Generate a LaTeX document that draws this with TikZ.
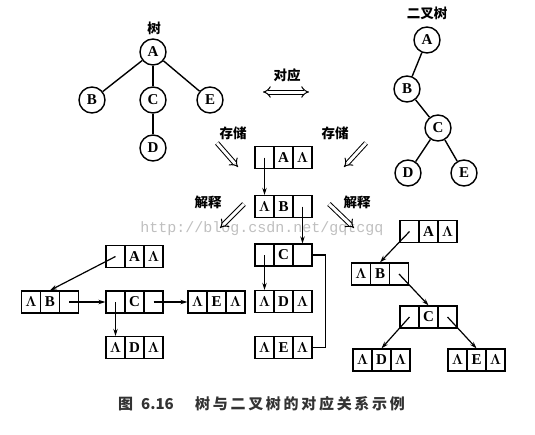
\documentclass[tikz,border=0pt]{standalone}
\usepackage{fontspec}
\setmainfont{Liberation Serif}
\newfontfamily\cjk{Noto Sans CJK SC}
\newfontfamily\capfont[LetterSpace=18]{Noto Sans CJK SC}
\newfontfamily\wmfont{Liberation Mono}
\usetikzlibrary{arrows.meta,calc}
\usepackage{amsmath,bm}
\tikzset{
  tnode/.style={circle,draw,line width=1.4pt,minimum size=26pt,inner sep=0pt,font=\bfseries\fontsize{15}{15}\selectfont},
  tedge/.style={line width=1.4pt},
  cell/.style={draw,line width=1.3pt,minimum width=19pt,minimum height=22pt,inner sep=0pt,font=\bfseries\fontsize{15}{15}\selectfont},
  lbl/.style={font=\cjk\bfseries\fontsize{13.5}{14}\selectfont,inner sep=0pt},
  ptr/.style={line width=1.2pt,-{Stealth[length=7pt,width=4.5pt]}},
  hollow/.style={double,double distance=3pt,line width=1pt,-{Implies}},
}
\newcommand\tribox[5]{%
  \coordinate (#1) at #2;
  \node[cell] (#1-1) at ([xshift=-19pt]#1) {#3};
  \node[cell] (#1-2) at (#1) {#4};
  \node[cell] (#1-3) at ([xshift=19pt]#1) {#5};
}
\newcommand\LL{$\bm{\Lambda}$}
\begin{document}
\begin{tikzpicture}[x=1pt,y=-1pt]
\useasboundingbox (0,0) rectangle (535,434);
% watermark
\node[font=\wmfont\fontsize{15}{15}\selectfont,text=black!25,inner sep=0pt] (wm) at (262,229) {http://blog.csdn.net/gqtcgq};
% left tree
\node[lbl] (ltitle) at (154,28) {树};
\node[tnode] (tA) at (153,52) {A};
\node[tnode] (tB) at (92,100) {B};
\node[tnode] (tC) at (153,100) {C};
\node[tnode] (tE) at (210,100) {E};
\node[tnode] (tD) at (153,148) {D};
\draw[tedge] (tA) -- (tB);
\draw[tedge] (tA) -- (tC);
\draw[tedge] (tA) -- (tE);
\draw[tedge] (tC) -- (tD);
% right binary tree
\node[lbl] (rtitle) at (427,13) {二叉树};
\node[tnode] (bA) at (427,40) {A};
\node[tnode] (bB) at (407,89) {B};
\node[tnode] (bC) at (438,128) {C};
\node[tnode] (bD) at (408,173) {D};
\node[tnode] (bE) at (464,173) {E};
\draw[tedge] (bA) -- (bB);
\draw[tedge] (bB) -- (bC);
\draw[tedge] (bC) -- (bD);
\draw[tedge] (bC) -- (bE);
% correspondence
\node[lbl] (dy) at (287,75) {对应};
\coordinate (dyL) at (263,92);
\coordinate (dyR) at (309,92);
\draw[double,double distance=3pt,line width=1pt,{Implies}-{Implies}] (dyL) -- (dyR);
% storage / interpretation labels and arrows
\node[lbl] (cc1) at (233,133) {存储};
\coordinate (cc1a) at (217,143); \coordinate (cc1b) at (238,167);
\draw[hollow] (cc1a) -- (cc1b);
\node[lbl] (cc2) at (335,133) {存储};
\coordinate (cc2a) at (366,143); \coordinate (cc2b) at (344,167);
\draw[hollow] (cc2a) -- (cc2b);
\node[lbl] (js1) at (208,202) {解释};
\coordinate (js1a) at (244,204); \coordinate (js1b) at (220,228);
\draw[hollow] (js1a) -- (js1b);
\node[lbl] (js2) at (357,202) {解释};
\coordinate (js2a) at (329,204); \coordinate (js2b) at (354,228);
\draw[hollow] (js2a) -- (js2b);
% middle linked storage
\tribox{mA}{(283.5,157.5)}{}{A}{\LL}
\tribox{mB}{(283.5,206.5)}{\LL}{B}{}
\tribox{mC}{(283.5,255)}{}{C}{}
\tribox{mD}{(283.5,301.5)}{\LL}{D}{\LL}
\tribox{mE}{(283.5,347.5)}{\LL}{E}{\LL}
\draw[ptr] (mA-1.center) -- (mB-1.north);
\draw[ptr] (mB-3.center) -- (mC-3.north);
\draw[ptr] (mC-1.center) -- (mD-1.north);
\draw[line width=1.2pt] (mC-3.east) -- ++(13,0) |- (mE-3.east);
% left interpretation
\tribox{lA}{(134.5,256.5)}{}{A}{\LL}
\tribox{lB}{(50,302)}{\LL}{B}{}
\tribox{lC}{(134.5,302)}{}{C}{}
\tribox{lE}{(216.5,302)}{\LL}{E}{\LL}
\tribox{lD}{(134.5,347.5)}{\LL}{D}{\LL}
\draw[ptr] (lA-1.center) -- (lB-2.north);
\draw[ptr] (lB-3.center) -- (lC-1.west);
\draw[ptr] (lC-3.center) -- (lE-1.west);
\draw[ptr] (lC-1.center) -- (lD-1.north);
% right interpretation
\tribox{rA}{(428.5,231.5)}{}{A}{\LL}
\tribox{rB}{(380,274)}{\LL}{B}{}
\tribox{rC}{(428.5,317)}{}{C}{}
\tribox{rD}{(381.5,360)}{\LL}{D}{\LL}
\tribox{rE}{(476.5,360)}{\LL}{E}{\LL}
\draw[ptr] (rA-1.center) -- (rB-2.north);
\draw[ptr] (rB-3.center) -- (rC-2.north);
\draw[ptr] (rC-1.center) -- (rD-2.north);
\draw[ptr] (rC-3.center) -- (rE-2.north);
% caption
\node[anchor=west,inner sep=0pt,font=\cjk\bfseries\fontsize{15}{15}\selectfont,text=black!80] (cap1) at (118,404) {图\hspace{8pt}6.16};
\node[anchor=west,inner sep=0pt,font=\capfont\bfseries\fontsize{15}{15}\selectfont,text=black!80] (cap2) at (195,404) {树与二叉树的对应关系示例};
\end{tikzpicture}
\end{document}
